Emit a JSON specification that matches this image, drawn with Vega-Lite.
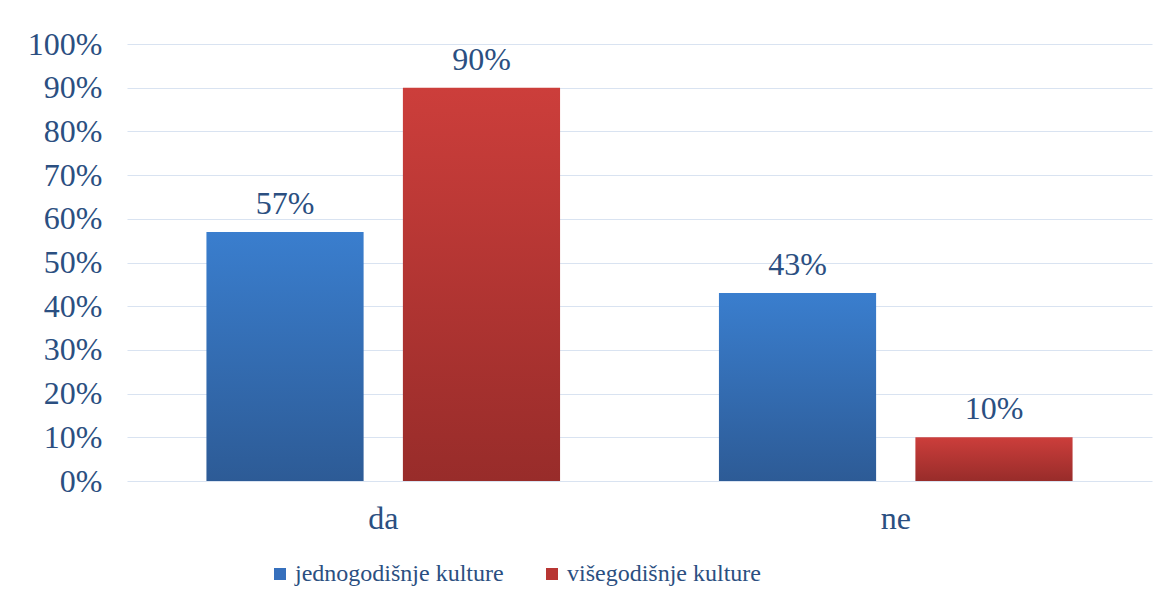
{
  "$schema": "https://vega.github.io/schema/vega-lite/v6.json",
  "autosize": "none",
  "width": 1025,
  "height": 437,
  "padding": {"left": 127, "top": 44, "right": 19, "bottom": 131},
  "background": "white",
  "config": {
    "font": "Liberation Serif",
    "view": {"stroke": null}
  },
  "data": {
    "values": [
      {"odgovor": "da", "kultura": "jednogodišnje kulture", "udio": 0.57},
      {"odgovor": "da", "kultura": "višegodišnje kulture", "udio": 0.90},
      {"odgovor": "ne", "kultura": "jednogodišnje kulture", "udio": 0.43},
      {"odgovor": "ne", "kultura": "višegodišnje kulture", "udio": 0.10}
    ]
  },
  "encoding": {
    "x": {
      "field": "odgovor", "type": "nominal",
      "scale": {"paddingInner": 0.31, "paddingOuter": 0.155},
      "axis": {"title": null, "labelAngle": 0, "labelFont": "Liberation Serif", "labelFontSize": 32, "labelColor": "#2B4F81", "domain": false, "ticks": false, "labelPadding": 22}
    },
    "xOffset": {
      "field": "kultura", "type": "nominal",
      "scale": {"paddingInner": 0.2, "paddingOuter": 0}
    },
    "y": {
      "field": "udio", "type": "quantitative",
      "scale": {"domain": [0, 1]},
      "axis": {"title": null, "format": ".0%", "values": [0,0.1,0.2,0.3,0.4,0.5,0.6,0.7,0.8,0.9,1], "labelOverlap": false, "labelFont": "Liberation Serif", "labelFontSize": 32, "labelColor": "#2B4F81", "domain": false, "ticks": false, "labelPadding": 25, "gridColor": "#D9E3F1", "gridWidth": 1.2}
    }
  },
  "layer": [
    {
      "mark": {"type": "bar", "opacity": 0},
      "encoding": {
        "color": {
          "field": "kultura", "type": "nominal",
          "scale": {"domain": ["jednogodišnje kulture", "višegodišnje kulture"], "range": ["#3670BD", "#B83633"]},
          "legend": {
            "title": null, "orient": "none", "direction": "horizontal",
            "legendX": 141, "legendY": 518,
            "symbolType": "square", "symbolSize": 144, "symbolStrokeWidth": 0, "symbolOpacity": 1,
            "labelFont": "Liberation Serif", "labelFontSize": 24, "labelLimit": 0, "labelColor": "#2B4F81", "labelOffset": 3, "columnPadding": 36,
            "encode": {"symbols": {"update": {"opacity": {"value": 1}, "fillOpacity": {"value": 1}}}}
          }
        }
      }
    },
    {
      "mark": {"type": "bar"},
      "encoding": {
        "fill": {
          "condition": {
            "test": "datum.kultura === 'jednogodišnje kulture'",
            "value": {"gradient": "linear", "x1": 0, "y1": 0, "x2": 0, "y2": 1, "stops": [{"offset": 0, "color": "#3A7ECE"}, {"offset": 1, "color": "#2D5B96"}]}
          },
          "value": {"gradient": "linear", "x1": 0, "y1": 0, "x2": 0, "y2": 1, "stops": [{"offset": 0, "color": "#CC3E3B"}, {"offset": 1, "color": "#982C2A"}]}
        }
      }
    },
    {
      "mark": {"type": "text", "baseline": "bottom", "dy": -11, "font": "Liberation Serif", "fontSize": 32, "color": "#2B4F81"},
      "encoding": {
        "text": {"field": "udio", "type": "quantitative", "format": ".0%"}
      }
    }
  ]
}
